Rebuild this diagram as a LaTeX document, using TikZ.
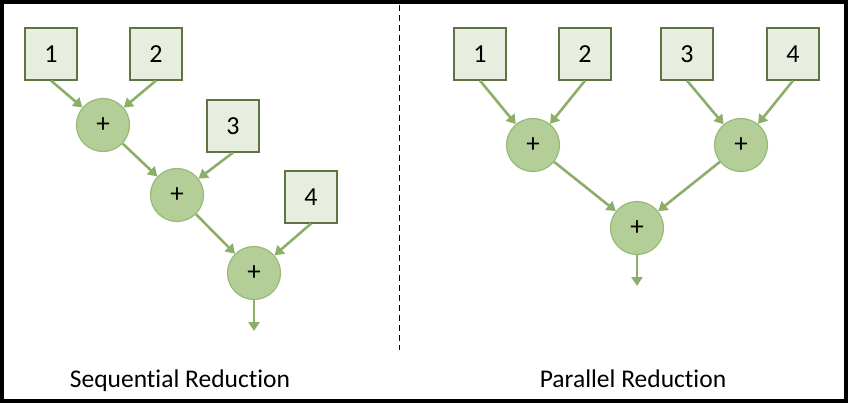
\documentclass[tikz,border=0pt]{standalone}
\usepackage{fontspec}
\setmainfont[Ligatures=NoCommon]{Carlito}
\usetikzlibrary{arrows.meta}
\definecolor{boxfill}{HTML}{E8EEDF}
\definecolor{boxline}{HTML}{5E7443}
\definecolor{opfill}{HTML}{B4CE98}
\definecolor{opline}{HTML}{98B978}
\definecolor{flow}{HTML}{8BAF68}
\begin{document}
\begin{tikzpicture}[x=1pt,y=-1pt,
    val/.style={draw=boxline,fill=boxfill,line width=1.2pt,minimum size=52pt,inner sep=0pt,font=\fontsize{26}{26}\selectfont},
    op/.style={circle,draw=opline,fill=opfill,line width=1.2pt,minimum size=53pt,inner sep=0pt,font=\fontsize{27}{27}\selectfont},
    flowarrow/.style={draw=flow,line width=2.6pt,-{Triangle[length=9pt,width=11pt]}},
    caption/.style={font=\fontsize{25.5}{25.5}\selectfont}]
        \draw[line width=4pt] (2,2) rectangle (846,401);
        \draw[dashed,line width=1pt,dash pattern=on 6pt off 4pt] (399,5)--(399,350);

        % sequential
        \node[val] (s1) at (51,54){1};
        \node[val] (s2) at (156,54){2};
        \node[op] (sa) at (103,125){+};
        \node[val] (s3) at (233,126){3};
        \node[op] (sb) at (177,195){+};
        \node[val] (s4) at (311,197){4};
        \node[op] (sc) at (254,273){+};
        \coordinate (sout) at (254,331);

        \draw[flowarrow] (s1.south)--(sa);
        \draw[flowarrow] (s2.south)--(sa);
        \draw[flowarrow] (sa)--(sb);
        \draw[flowarrow] (s3.south)--(sb);
        \draw[flowarrow] (sb)--(sc);
        \draw[flowarrow] (s4.south)--(sc);
        \draw[flowarrow] (sc)--(sout);

        % parallel
        \node[val] (p1) at (480,54){1};
        \node[val] (p2) at (585,54){2};
        \node[val] (p3) at (687,54){3};
        \node[val] (p4) at (793,54){4};
        \node[op] (pa) at (533,145){+};
        \node[op] (pb) at (741,145){+};
        \node[op] (pc) at (637,228){+};
        \coordinate (pout) at (637,286);

        \draw[flowarrow] (p1.south)--(pa);
        \draw[flowarrow] (p2.south)--(pa);
        \draw[flowarrow] (p3.south)--(pb);
        \draw[flowarrow] (p4.south)--(pb);
        \draw[flowarrow] (pa)--(pc);
        \draw[flowarrow] (pb)--(pc);
        \draw[flowarrow] (pc)--(pout);

        \node[caption,anchor=base] (seq) at (180,387){Sequential Reduction};
        \node[caption,anchor=base] (par) at (633,387){Parallel Reduction};
    \end{tikzpicture}
\end{document}
